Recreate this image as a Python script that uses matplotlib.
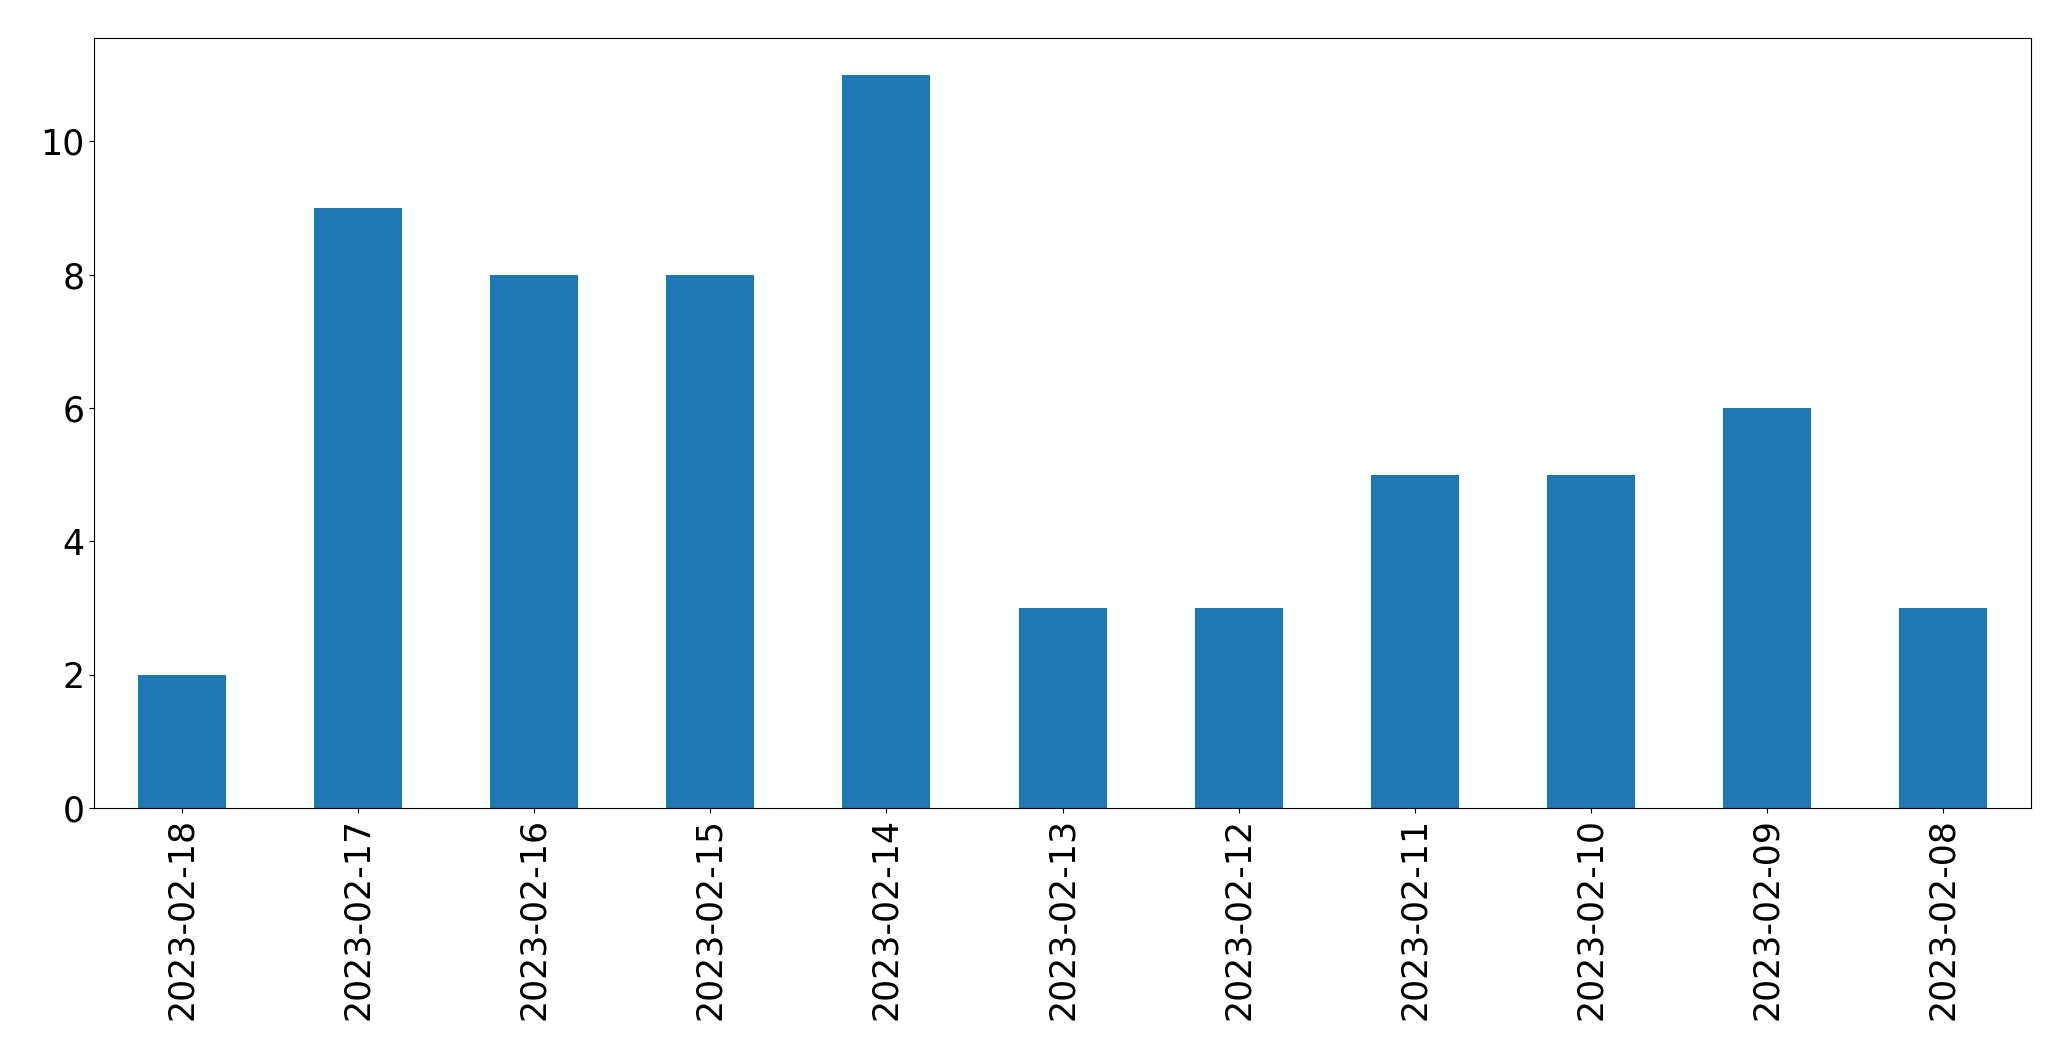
import matplotlib
matplotlib.use("Agg")
import matplotlib.pyplot as plt
import pandas as pd

dates = ['2023-02-18', '2023-02-17', '2023-02-16', '2023-02-15', '2023-02-14',
         '2023-02-13', '2023-02-12', '2023-02-11', '2023-02-10', '2023-02-09',
         '2023-02-08']
counts = [2, 9, 8, 8, 11, 3, 3, 5, 5, 6, 3]

s = pd.Series(counts, index=dates)

fig = plt.figure(figsize=(20.71, 10.61), dpi=100)
ax = fig.add_axes([0.0454, 0.2385, 0.9353, 0.7255])
s.plot(kind='bar', ax=ax, color='#1f77b4')
ax.tick_params(labelsize=25)

fig.savefig('out.png', dpi=100)
